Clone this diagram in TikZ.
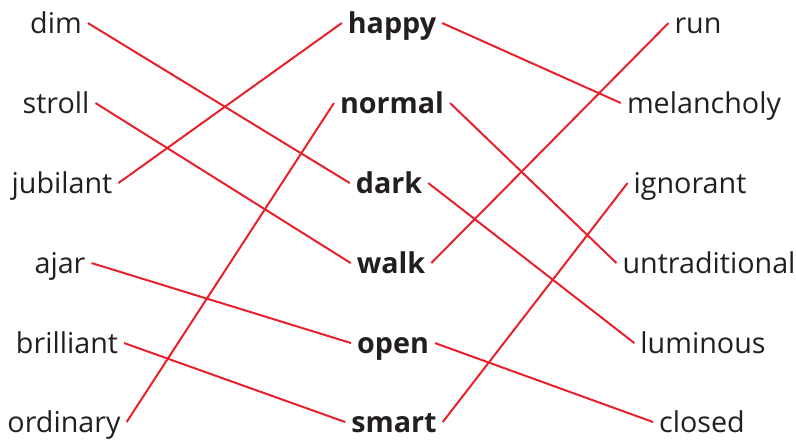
\documentclass[tikz,border=0pt]{standalone}
\usepackage{fontspec}
\setmainfont{Open Sans}
\usepackage{xcolor}
\usepackage{tikz}
\usetikzlibrary{positioning}
\definecolor{cRed}{HTML}{E8202A}
\definecolor{cInk}{HTML}{231F20}

\tikzset{
  word/.style={anchor=base, text=cInk, font=\fontsize{24.5}{28}\selectfont,
    text height=17pt, text depth=0pt, inner sep=5pt},
  keyword/.style={word, font=\fontsize{24.5}{28}\selectfont\bfseries},
  match/.style={draw=cRed, line width=1.7pt}
}

\begin{document}
\begin{tikzpicture}[x=0.03cm, y=-0.03cm]
    \useasboundingbox (0,0) rectangle (796,440);
    % left column
    \node[word] (dim)       at (56,33)  {dim};
    \node[word] (stroll)    at (56,113) {stroll};
    \node[word] (jubilant)  at (62,193) {jubilant};
    \node[word] (ajar)      at (60,273) {ajar};
    \node[word] (brilliant) at (67,353) {brilliant};
    \node[word] (ordinary)  at (64,432) {ordinary};
    % middle column
    \node[keyword] (happy)  at (392,33)  {happy};
    \node[keyword] (normal) at (392,113) {normal};
    \node[keyword] (dark)   at (389,193) {dark};
    \node[keyword] (walk)   at (391,273) {walk};
    \node[keyword] (open)   at (393,353) {open};
    \node[keyword] (smart)  at (394,432) {smart};
    % right column
    \node[word] (run)           at (698,33)  {run};
    \node[word] (melancholy)    at (704,113) {melancholy};
    \node[word] (ignorant)      at (690,193) {ignorant};
    \node[word] (untraditional) at (709,273) {untraditional};
    \node[word] (luminous)      at (703,353) {luminous};
    \node[word] (closed)        at (702,432) {closed};
    % matches
    \foreach \a/\b in {dim/dark, stroll/walk, jubilant/happy, ajar/open, brilliant/smart, ordinary/normal}
      \draw[match] (\a.east) -- (\b.west);
    \foreach \a/\b in {happy/melancholy, normal/untraditional, dark/luminous, walk/run, open/closed, smart/ignorant}
      \draw[match] (\a.east) -- (\b.west);
  \end{tikzpicture}
\end{document}
